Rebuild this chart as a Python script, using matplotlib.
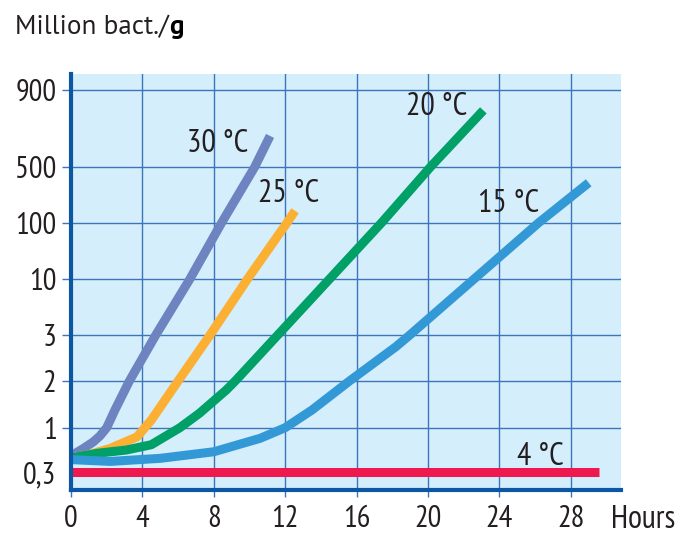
import numpy as np
import matplotlib
matplotlib.use("Agg")
import matplotlib.pyplot as plt

# growth curves: hours -> million bacteria per gram
h30 = [0, 0.25, 0.7, 1.25, 1.62, 2.0, 2.46, 3.27, 4.76, 6.67, 8.44, 10.3, 11.15]
v30 = [0.44, 0.5, 0.57, 0.68, 0.8, 1, 1.3, 2, 3, 10, 100, 500, 633]

h25 = [0, 1.0, 2.2, 3.7, 4.5, 6.0, 7.8, 9.9, 12.1, 12.55]
v25 = [0.44, 0.48, 0.57, 0.78, 1.12, 2, 3, 10, 100, 141]

h20 = [0, 1.5, 3.1, 4.5, 6.1, 7.2, 8.7, 9.2, 11.6, 14.5, 17.4, 20.15, 23.1]
v20 = [0.44, 0.5, 0.545, 0.63, 1, 1.24, 1.75, 2, 3, 10, 100, 500, 770]

h15 = [0, 2.2, 5.0, 8.0, 10.6, 12.0, 13.5, 15.6, 18.2, 19.0, 22.6, 26.2, 29.0]
v15 = [0.42, 0.40, 0.435, 0.52, 0.75, 1.0, 1.3, 2, 2.7, 3, 10, 100, 315]

h4 = [0, 29.55]
v4 = [0.3, 0.3]

series = [
    (h30, v30, '#6d84c0'),
    (h25, v25, '#fbb034'),
    (h20, v20, '#00a067'),
    (h15, v15, '#3399d6'),
    (h4, v4, '#ee1a4f'),
]
labels = ['30 °C', '25 °C', '20 °C', '15 °C', '4 °C']

x_ticks = [0, 4, 8, 12, 16, 20, 24, 28]
y_ticks = [0.3, 1, 2, 3, 10, 100, 500, 900]
y_ticklabels = ['0,3', '1', '2', '3', '10', '100', '500', '900']

# The y axis of the original is hand made: every tick sits at its own height.
# Heights (in pixels above the x axis) for each tick, log-linear in between.
tick_pos = [18, 62.3, 109, 155.3, 211.3, 267.3, 323.3, 400]
lv = list(np.log10(y_ticks))
pos = list(tick_pos)
lo = (pos[1] - pos[0]) / (lv[1] - lv[0])
hi = (pos[-1] - pos[-2]) / (lv[-1] - lv[-2])
lv = [-3] + lv + [5]
pos = [pos[0] - lo * (lv[1] + 3)] + pos + [pos[-1] + hi * (5 - lv[-2])]


def forward(v):
    return np.interp(np.log10(np.clip(v, 1e-3, None)), lv, pos)


def inverse(p):
    return 10 ** np.interp(p, pos, lv)


plt.rcParams['font.family'] = ['PT Sans Narrow', 'DejaVu Sans']
txt = '#231f20'
grid_c = '#3b76bd'
spine_c = '#0c57a3'

fig = plt.figure(figsize=(6.97, 5.37), dpi=100)
ax = fig.add_axes([71/697, 47/537, 550/697, 416/537])
ax.set_facecolor('#d4eefb')
ax.set_yscale('function', functions=(forward, inverse))
ax.set_ylim(inverse(0), inverse(416))
ax.set_xlim(0, 30.81)

for h, v, c in series:
    ax.plot(h, v, color=c, lw=6.5, solid_capstyle='butt', solid_joinstyle='round', zorder=3)

ax.set_xticks(x_ticks)
ax.set_xticklabels([str(t) for t in x_ticks])
ax.set_yticks(y_ticks)
ax.set_yticklabels(y_ticklabels)
ax.yaxis.set_minor_locator(matplotlib.ticker.NullLocator())
ax.grid(True, color=grid_c, lw=1.0)
ax.set_axisbelow(True)
ax.tick_params(axis='both', colors=grid_c, labelcolor=txt, labelsize=22, width=1.0)
ax.tick_params(axis='y', length=6.5, pad=4)
ax.tick_params(axis='x', length=5, pad=6)
t0 = ax.yaxis.get_major_ticks()[0]
t0.tick1line.set_visible(False)
t0.gridline.set_visible(False)

for s in ['top', 'right']:
    ax.spines[s].set_visible(False)
for s in ['left', 'bottom']:
    ax.spines[s].set_color(spine_c)
    ax.spines[s].set_linewidth(3)
    ax.spines[s].set_zorder(4)

label_xy = [(0.267, 0.832), (0.396, 0.712), (0.664, 0.921), (0.796, 0.688), (0.853, 0.079)]
for lab, (x, y) in zip(labels, label_xy):
    ax.text(x, y, lab, transform=ax.transAxes, ha='center', va='center',
            fontsize=23, color=txt, zorder=5)

ax.text(1.041, -0.072, 'Hours', transform=ax.transAxes, ha='center', va='center',
        fontsize=23, color=txt)

t = fig.text(15/697, 1 - 34/537, 'Million bact./', fontsize=19.5, color=txt,
             family=['PT Sans', 'DejaVu Sans'], va='baseline')
ax.annotate('g', xy=(1, 0), xycoords=t, va='bottom', ha='left', fontsize=19.5,
            fontweight='bold', color='black', family=['PT Sans', 'DejaVu Sans'],
            annotation_clip=False)

fig.savefig('out.png', dpi=100)
